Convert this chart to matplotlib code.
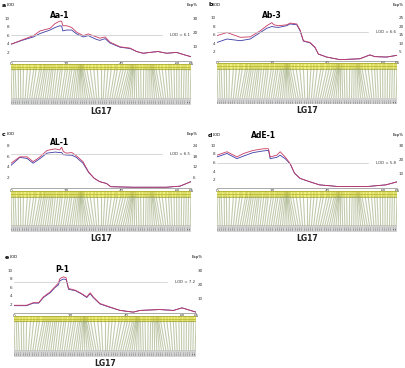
import numpy as np
import matplotlib.pyplot as plt

# --- LG17 marker map (cM) ---
marker_cm = [0.0, 0.8, 1.5, 2.6, 3.4, 4.5, 5.9, 7.0, 8.2, 9.1, 10.3, 11.0, 11.8, 12.4,
             13.1, 13.9, 14.6, 15.2, 16.0, 16.9, 17.8, 18.5, 19.6, 20.4, 21.3, 22.0,
             22.9, 23.5, 24.1, 24.6, 24.9, 25.1, 25.3, 25.6, 25.9, 26.5, 27.4, 28.6,
             29.9, 31.2, 32.5, 33.9, 35.0, 36.2, 37.5, 38.4, 39.6, 40.5, 41.4, 42.3,
             42.9, 43.4, 43.7, 44.0, 44.2, 44.6, 45.1, 45.9, 46.8, 47.9, 48.8, 49.5,
             50.1, 50.6, 51.0, 51.3, 51.7, 52.4, 53.5, 54.6, 55.8, 56.9, 57.8, 58.9,
             59.8, 60.7, 61.6, 62.5, 63.3, 64.1, 65.0]
marker_names = ["M%02d" % (i + 1) for i in range(len(marker_cm))]
x_ticks = [0, 20, 40, 60, 65]

# --- LOD profiles ---
a_cm = [0, 4, 8.1, 10.5, 14.1, 15.9, 17.7, 18.3, 18.7, 20.1, 21.9, 23.7, 26.1, 27.9,
        30.9, 32.1, 34, 35.7, 39.4, 43, 45.4, 47.7, 50.2, 53.1, 56.2, 59.8, 62.8, 65]
a_red = [3.9, 4.9, 5.9, 7.0, 7.6, 8.7, 9.3, 9.2, 8.2, 8.2, 7.8, 6.7, 5.9, 6.3,
         5.6, 5.3, 5.6, 4.4, 3.3, 3.0, 2.2, 1.8, 2.0, 2.2, 1.8, 2.0, 1.4, 1.0]
a_blue = [3.9, 4.8, 5.6, 6.4, 7.2, 7.8, 8.2, 8.1, 7.0, 7.2, 7.2, 6.3, 5.6, 5.9,
          5.0, 4.8, 5.2, 4.2, 3.2, 2.9, 2.2, 1.8, 2.0, 2.2, 1.8, 2.0, 1.4, 1.0]

b_cm = [0, 3.6, 8.4, 12, 15.6, 18, 19.8, 20.6, 22.2, 25.2, 26.4, 28.8, 30, 31.2,
        33.6, 35.4, 36.6, 39.6, 44.4, 51.6, 55.2, 57, 61.2, 65]
b_red = [5.8, 6.5, 5.4, 5.5, 6.9, 8.1, 8.8, 8.3, 8.1, 8.3, 8.7, 8.5, 7.1, 4.6,
         4.2, 3.1, 1.5, 0.8, 0.2, 0.4, 1.3, 0.9, 0.8, 1.2]
b_blue = [4.2, 5.0, 4.6, 5.0, 6.5, 7.5, 7.9, 7.8, 7.7, 8.1, 8.5, 8.3, 6.9, 4.5,
          4.1, 3.0, 1.5, 0.8, 0.2, 0.4, 1.3, 0.9, 0.8, 1.2]

c_cm = [0, 3.2, 5.8, 8, 10.5, 13, 16, 17.6, 18.3, 18.9, 20, 22, 23.6, 26, 28, 30,
        32, 34.5, 36, 44, 56, 61, 65]
c_red = [4.7, 5.9, 5.9, 5.0, 5.9, 7.1, 7.4, 7.2, 7.7, 6.9, 6.6, 6.7, 6.1, 5.0, 3.1,
         1.9, 1.25, 0.9, 0.3, 0.2, 0.2, 0.4, 1.25]
c_blue = [4.3, 5.8, 5.6, 4.7, 5.6, 6.6, 6.8, 6.7, 6.7, 6.3, 6.25, 6.2, 5.8, 4.7, 3.0,
          1.9, 1.25, 0.9, 0.3, 0.2, 0.2, 0.4, 1.25]

d_cm = [0, 3.6, 7.2, 9.6, 13, 16.8, 18.6, 19.2, 21.6, 22.8, 24.6, 26.4, 28, 30,
        33.6, 37, 44, 54, 61, 65]
d_red = [7.7, 8.5, 7.3, 8.1, 8.8, 9.2, 9.2, 7.3, 7.7, 8.5, 7.3, 5.8, 3.5, 2.3,
         1.5, 0.8, 0.4, 0.4, 0.8, 1.5]
d_blue = [7.3, 8.1, 6.9, 7.5, 8.3, 8.7, 8.8, 6.9, 7.2, 7.7, 6.9, 5.7, 3.5, 2.3,
          1.5, 0.8, 0.4, 0.4, 0.8, 1.5]

e_cm = [0, 4.5, 6.9, 8.8, 10.5, 12.9, 14.6, 15.8, 16.4, 17.6, 18.6, 19.5, 21.9,
        24.2, 26, 27.2, 28.3, 30.7, 34.3, 37.9, 42.6, 45, 52, 57, 60, 63, 65]
e_red = [1.8, 1.8, 2.4, 2.4, 3.75, 4.9, 6.1, 6.9, 8.0, 8.4, 8.2, 5.7, 5.3,
         4.5, 3.75, 4.7, 3.75, 2.2, 1.4, 0.6, 0.2, 0.6, 0.8, 0.6, 1.2, 0.6, 0.2]
e_blue = [1.7, 1.7, 2.3, 2.3, 3.6, 4.7, 5.9, 6.5, 7.5, 7.9, 7.8, 5.5, 5.2,
          4.4, 3.6, 4.5, 3.6, 2.1, 1.3, 0.6, 0.2, 0.6, 0.8, 0.6, 1.2, 0.6, 0.2]

thresholds = {"a": 6.1, "b": 6.6, "c": 6.5, "d": 5.8, "e": 7.2}
qtl_names = {"a": "Aa-1", "b": "Ab-3", "c": "AL-1", "d": "AdE-1", "e": "P-1"}

W, H = 405, 368
fig = plt.figure(figsize=(W / 100, H / 100), dpi=100)


def px_axes(x0, y0, x1, y1):
    return fig.add_axes([x0 / W, 1 - y1 / H, (x1 - x0) / W, (y1 - y0) / H])


def draw_panel(key, cm, red, blue, x0, x1, zero, ymax, lod_ticks, exp_ticks, exp_k, qtl_xy):
    top = zero - 4.3 * ymax if key != "c" else zero - 5.33 * ymax
    ax = px_axes(x0, top, x1, zero)
    ax.plot(cm, blue, color="#3c3ca8", lw=0.6)
    ax.plot(cm, red, color="#c83a62", lw=0.6)
    thr = thresholds[key]
    ax.axhline(thr, xmin=0, xmax=0.84, color="#c8c8c8", lw=0.5)
    ax.text(64.6, thr, "LOD = %.1f" % thr, fontsize=2.8, ha="right", va="center", color="#333333")
    ax.set_xlim(0, 65)
    ax.set_ylim(0, ymax)
    for s in ["top", "left", "right"]:
        ax.spines[s].set_visible(False)
    ax.spines["bottom"].set_color("#888888")
    ax.spines["bottom"].set_linewidth(0.5)
    ax.set_xticks(x_ticks)
    ax.set_yticks(lod_ticks)
    ax.tick_params(labelsize=3, length=0, pad=1, colors="#333333")
    ax.tick_params(axis="x", pad=0.6)
    ax2 = ax.twinx()
    ax2.set_ylim(0, ymax * exp_k)
    ax2.set_yticks(exp_ticks)
    ax2.tick_params(labelsize=3, length=0, pad=1, colors="#333333")
    for s in ax2.spines.values():
        s.set_visible(False)

    # labels around the plot
    fig.text((x0 - 9) / W, 1 - (top - 3) / H, key, fontsize=4.5, fontweight="bold", va="center")
    fig.text((x0 - 4) / W, 1 - (top - 3) / H, "LOD", fontsize=2.8, va="center")
    fig.text((x1 + 1) / W, 1 - (top - 3) / H, "Exp%", fontsize=2.8, va="center", ha="center")
    fig.text(qtl_xy[0] / W, 1 - qtl_xy[1] / H, qtl_names[key], fontsize=5.5,
             fontweight="bold", ha="center", va="center")

    # linkage map below
    bar_top, bar_bot = zero + 2.5, zero + 8.5
    lab_top, lab_bot = zero + 37, zero + 45
    lk = px_axes(x0, bar_top, x1, lab_bot)
    lk.set_xlim(0, 65)
    lk.set_ylim(lab_bot, bar_top)
    lk.axis("off")
    lk.fill_between([0, 65], bar_top, bar_bot, color="#eef07c", lw=0)
    lk.plot([0, 65], [bar_top + 0.3, bar_top + 0.3], color="#b0b030", lw=0.6)
    lk.plot([0, 65], [bar_top + 3.2, bar_top + 3.2], color="#c8c840", lw=0.7)
    lk.plot([0, 65], [bar_bot - 0.3, bar_bot - 0.3], color="#b0b030", lw=0.6)
    lk.fill_between([0, 65], lab_top, lab_top + 6.5, color="#d2d2d2", lw=0)
    n = len(marker_cm)
    lab_x = np.linspace(0.3, 64.7, n)
    for m, lx, name in zip(marker_cm, lab_x, marker_names):
        lk.plot([m, m], [bar_top, bar_bot], color="#a4a438", lw=0.35)
        lk.plot([m, lx], [bar_bot, lab_top], color="#9aa878", lw=0.8, alpha=0.6)
        lk.text(lx, lab_top + 0.4, name, fontsize=1.5, rotation=90, ha="center",
                va="top", color="#666666")
    fig.text((x0 + x1) / 2 / W, 1 - (zero + 50) / H, "LG17", fontsize=5.5,
             fontweight="bold", ha="center", va="center", color="#222222")


draw_panel("a", a_cm, a_red, a_blue, 11, 191, 61, 12.3, [2, 4, 6, 8, 10], [10, 20, 30], 3, (60, 15))
draw_panel("b", b_cm, b_red, b_blue, 217, 397, 60.5, 12.3, [2, 4, 6, 8, 10], [5, 10, 15, 20, 25], 2.5, (272, 15))
draw_panel("c", c_cm, c_red, c_blue, 11, 191, 188.3, 9.6, [2, 4, 6, 8], [6, 12, 18, 24], 3, (60, 142))
draw_panel("d", d_cm, d_red, d_blue, 217, 397, 188.3, 11.6, [2, 4, 6, 8, 10], [10, 20, 30], 3, (263, 135))
draw_panel("e", e_cm, e_red, e_blue, 14, 196, 313, 12.3, [2, 4, 6, 8, 10], [10, 20, 30], 3, (62, 270))

fig.savefig("out.png", dpi=100)
